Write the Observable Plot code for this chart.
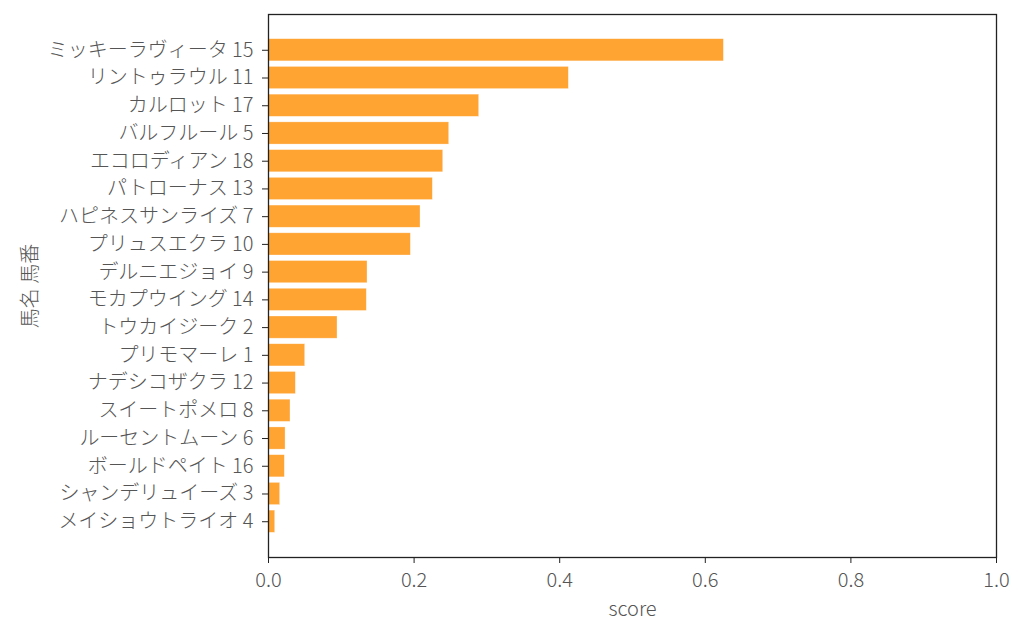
<!DOCTYPE html>
<html><head><meta charset="utf-8">
<script src="https://cdn.jsdelivr.net/npm/d3@7"></script>
<script src="https://cdn.jsdelivr.net/npm/@observablehq/plot@0.6"></script>
<style>body{margin:0;background:#fff}</style>
</head><body><div id="chart"></div>
<script>
const horses = ["ミッキーラヴィータ","リントゥラウル","カルロット","バルフルール","エコロディアン","パトローナス","ハピネスサンライズ","プリュスエクラ","デルニエジョイ","モカプウイング","トウカイジーク","プリモマーレ","ナデシコザクラ","スイートポメロ","ルーセントムーン","ボールドペイト","シャンデリュイーズ","メイショウトライオ"];
const numbers = [15,11,17,5,18,13,7,10,9,14,2,1,12,8,6,16,3,4];
const scores = [0.6255,0.4125,0.2894,0.2482,0.240,0.2257,0.2088,0.1955,0.136,0.135,0.0948,0.0504,0.0375,0.0302,0.0234,0.0224,0.016,0.0092];
const xTicks = [0,0.2,0.4,0.6,0.8,1.0];
const xLabel = "score";
const yLabel = "馬名 馬番";

const labels = horses.map((h,i)=>`${h} ${numbers[i]}`);
const data = labels.map((l,i)=>({label:l, score:scores[i]}));

const chart = Plot.plot({
  width:1024, height:638,
  marginLeft:268, marginRight:28, marginTop:14, marginBottom:81,
  style:{fontFamily:"'Noto Sans CJK JP', 'Noto Sans', sans-serif", fontSize:"20px", fontWeight:300, color:"#555", background:"#fff"},
  x:{domain:[0,1]},
  y:{domain:labels, paddingInner:0.2, paddingOuter:0.89, align:0.5, round:false},
  marks:[
    Plot.barX(data,{x:"score", y:"label", fill:"#ffa333", stroke:"#fff", strokeWidth:0.6, strokeOpacity:0.5}),
    Plot.frame({stroke:"#222", strokeWidth:1.3}),
    Plot.axisX({ticks:xTicks, tickFormat:d3.format(".1f"), tickSize:6, tickPadding:9, stroke:"#222", fill:"#555", label:null}),
    Plot.axisY({tickSize:6, tickPadding:9, stroke:"#222", fill:"#555", label:null}),
    Plot.text([xLabel],{frameAnchor:"bottom", dy:52, lineAnchor:"middle", fill:"#555", fontSize:20}),
    Plot.text([yLabel],{frameAnchor:"left", rotate:-90, dx:-238, textAnchor:"middle", lineAnchor:"middle", fill:"#555", fontSize:20})
  ]
});
document.getElementById("chart").append(chart);
</script>
</body></html>
